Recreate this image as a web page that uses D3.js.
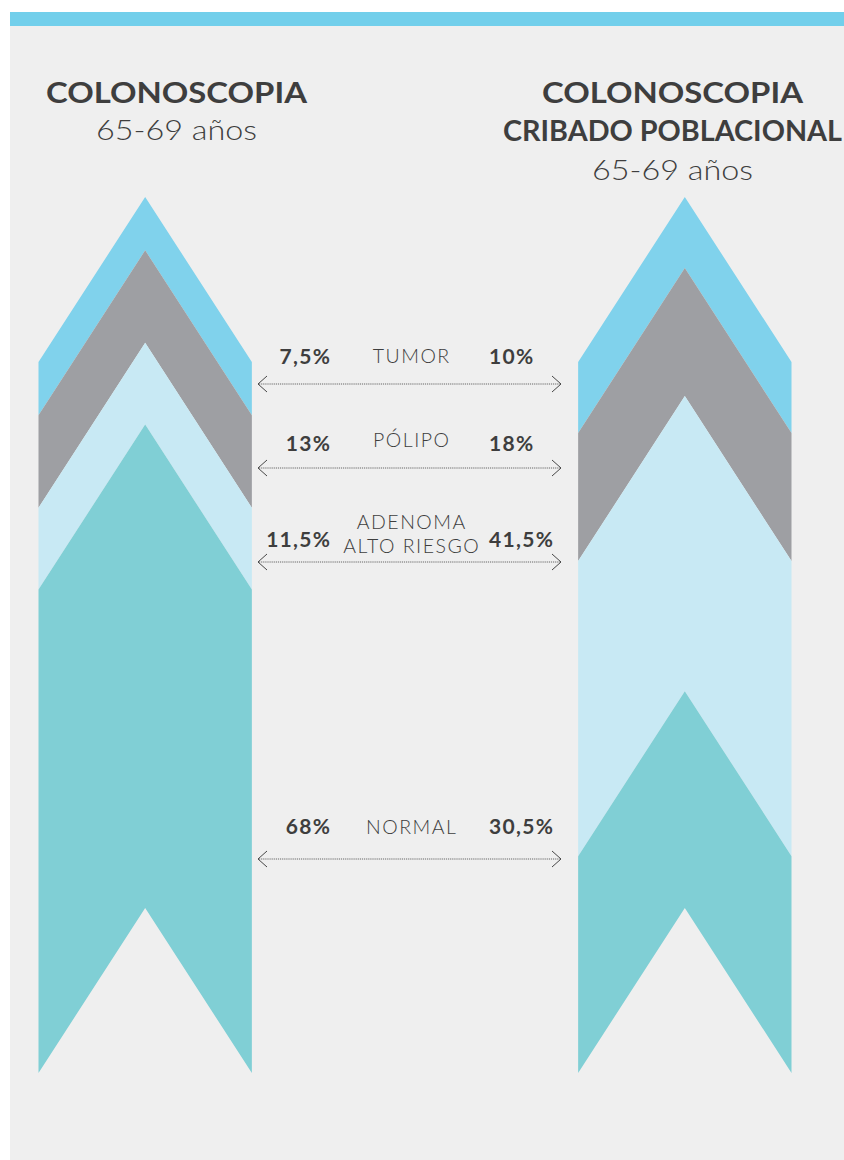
<!DOCTYPE html>
<html>
<head>
<meta charset="utf-8">
<script src="https://cdn.jsdelivr.net/npm/d3@7"></script>
<style>
  html, body { margin: 0; padding: 0; background: #ffffff; }
  svg { display: block; }
</style>
</head>
<body>
<script>
// ---- data ----
const categories = ["TUMOR", "PÓLIPO", "ADENOMA ALTO RIESGO", "NORMAL"];
const leftValues = [7.5, 13, 11.5, 68];
const rightValues = [10, 18, 41.5, 30.5];
const columnTitles = [["COLONOSCOPIA"], ["COLONOSCOPIA", "CRIBADO POBLACIONAL"]];
const columnSubtitles = ["65-69 años", "65-69 años"];
const categoryLines = [["TUMOR"], ["PÓLIPO"], ["ADENOMA", "ALTO RIESGO"], ["NORMAL"]];

// ---- styles / layout ----
const W = 844, H = 1160;
const colors = ["#80d2ec", "#9e9fa3", "#c8e9f4", "#80cfd5"];
const textColor = "#3e3e3e";
const depth = 165;               // chevron depth (px)
const rowY = [384, 468, 562, 859];   // arrow rows
const valueDy = [-20, -17, -15, -25];
const catDy = [[-21], [-21], [-33, -9], [-25]];
const valLS = 1.3, catLS = 1.5;

const fmt = d3.formatLocale({decimal: ",", thousands: ".", grouping: [3], currency: ["", "€"]}).format("~");

const svg = d3.select("body").append("svg").attr("width", W).attr("height", H);

// background panel
svg.append("rect").attr("x", 10).attr("y", 0).attr("width", W - 10).attr("height", H).attr("fill", "#efefef");
svg.append("rect").attr("x", 0).attr("y", 0).attr("width", W).attr("height", 12).attr("fill", "#ffffff");
svg.append("rect").attr("x", 10).attr("y", 12).attr("width", W - 10).attr("height", 14).attr("fill", "#72cfeb");

const y = d3.scaleLinear().domain([0, 100]).range([197, 908]);
const x = d3.scaleBand().domain([0, 1]).range([38.5, 791.5]).paddingInner(1 - 213.5 / 540).paddingOuter(0);

function stackOf(vals) {
  let acc = 0;
  return vals.map((v, i) => { const s = acc; acc += v; return {i, s, e: acc}; });
}

[leftValues, rightValues].forEach((vals, c) => {
  const x0 = x(c), x1 = x(c) + x.bandwidth(), xm = (x0 + x1) / 2;
  svg.append("g").selectAll("path").data(stackOf(vals)).join("path")
    .attr("d", d => {
      const ys = y(d.s), ye = y(d.e);
      return d3.line()([[x0, ys + depth], [xm, ys], [x1, ys + depth], [x1, ye + depth], [xm, ye], [x0, ye + depth]]) + "Z";
    })
    .attr("fill", d => colors[d.i]);
});

// titles
const titleCx = [176.5, 672.5];
const titleWidths = [[261], [261, 339]];
columnTitles.forEach((lines, c) => {
  lines.forEach((t, k) => {
    svg.append("text").attr("x", titleCx[c]).attr("y", 102.5 + k * 38.5)
      .attr("text-anchor", "middle")
      .attr("font-family", "Lato, 'Open Sans', sans-serif")
      .attr("font-weight", 700).attr("font-size", 29)
      .attr("fill", textColor)
      .attr("textLength", titleWidths[c][k]).attr("lengthAdjust", "spacingAndGlyphs")
      .text(t);
  });
  svg.append("text").attr("x", titleCx[c]).attr("y", 140 + (lines.length - 1) * 39.5)
    .attr("text-anchor", "middle")
    .attr("font-family", "Lato, 'Open Sans', sans-serif")
    .attr("font-weight", 300).attr("font-size", 28)
    .attr("fill", textColor)
    .attr("textLength", 161).attr("lengthAdjust", "spacingAndGlyphs")
    .text(columnSubtitles[c]);
});

// arrows
const ax0 = 258, ax1 = 561, axm = 411;
const rows = svg.append("g").selectAll("g").data(categories).join("g")
  .attr("transform", (d, i) => `translate(0,${rowY[i]})`);

rows.append("line").attr("x1", ax0 + 1).attr("x2", ax1 - 1).attr("y1", 0).attr("y2", 0)
  .attr("stroke", "#444").attr("stroke-width", 0.8).attr("stroke-dasharray", "1.2,0.9");
rows.append("path").attr("d", `M${ax0 + 9},-8 L${ax0},0 L${ax0 + 9},8`)
  .attr("fill", "none").attr("stroke", "#333").attr("stroke-width", 0.9);
rows.append("path").attr("d", `M${ax1 - 9},-8 L${ax1},0 L${ax1 - 9},8`)
  .attr("fill", "none").attr("stroke", "#333").attr("stroke-width", 0.9);

rows.append("text").attr("x", 330 + valLS).attr("y", (d, i) => valueDy[i])
  .attr("text-anchor", "end")
  .attr("font-family", "Lato, 'Open Sans', sans-serif").attr("font-weight", 700).attr("font-size", 21)
  .attr("letter-spacing", valLS)
  .attr("fill", textColor)
  .text((d, i) => fmt(leftValues[i]) + "%");
rows.append("text").attr("x", 489).attr("y", (d, i) => valueDy[i])
  .attr("text-anchor", "start")
  .attr("font-family", "Lato, 'Open Sans', sans-serif").attr("font-weight", 700).attr("font-size", 21)
  .attr("letter-spacing", valLS)
  .attr("fill", textColor)
  .text((d, i) => fmt(rightValues[i]) + "%");

rows.each(function(d, i) {
  categoryLines[i].forEach((t, k) => {
    d3.select(this).append("text").attr("x", axm + catLS / 2).attr("y", catDy[i][k])
      .attr("text-anchor", "middle")
      .attr("font-family", "Lato, 'Open Sans', sans-serif").attr("font-weight", 300).attr("font-size", 19.5)
      .attr("letter-spacing", catLS)
      .attr("fill", textColor)
      .text(t);
  });
});
</script>
</body>
</html>
